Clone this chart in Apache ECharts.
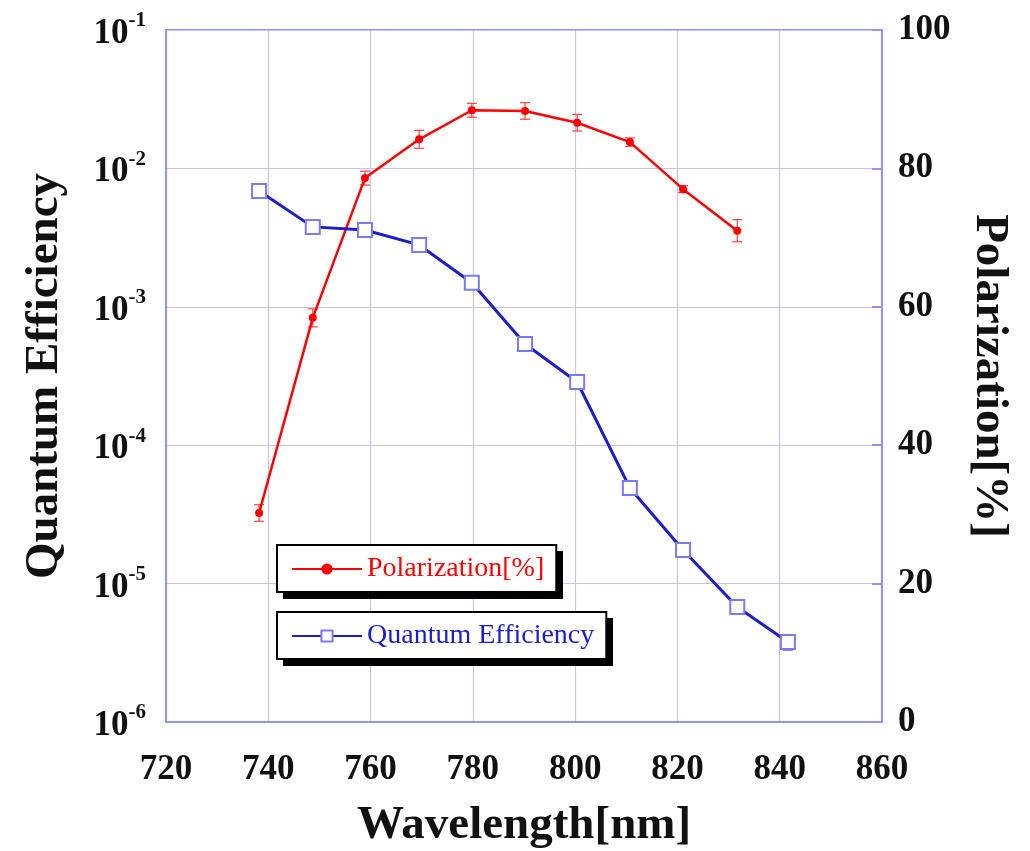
<!DOCTYPE html>
<html>
<head>
<meta charset="utf-8">
<script src="https://cdn.jsdelivr.net/npm/echarts@6/dist/echarts.min.js"></script>
<style>
html,body{margin:0;padding:0;background:#fff;}
#chart{width:1030px;height:851px;}
</style>
</head>
<body>
<div id="chart"></div>
<script>
// ---- data ----
var wavelength = [738.2, 748.7, 758.9, 769.5, 779.8, 790.2, 800.4, 810.7, 821.1, 831.7, 841.6];
var polarization = [30.2, 58.4, 78.6, 84.2, 88.4, 88.3, 86.6, 83.8, 77.0, 71.0];
var polarizationErr = [1.2, 1.3, 1.0, 1.3, 1.0, 1.2, 1.2, 0.6, 0.5, 1.6];
var quantumEfficiency = [6.87e-3, 3.78e-3, 3.59e-3, 2.80e-3, 1.49e-3, 5.38e-4, 2.86e-4, 4.91e-5, 1.75e-5, 6.78e-6, 3.79e-6];
var qeErrFrac = [0.08, 0, 0, 0, 0, 0, 0, 0, 0, 0, 0.13];
var xTicks = [720, 740, 760, 780, 800, 820, 840, 860];
var polTicks = [0, 20, 40, 60, 80, 100];

var serif = "'Liberation Serif','Times New Roman',serif";
var frameColor = '#9292f2';
var gridColor = '#c4c4f4';

var polData = polarization.map(function (v, i) { return [wavelength[i], v]; });
var qeData = quantumEfficiency.map(function (v, i) { return [wavelength[i], v]; });
var polErrData = polarization.map(function (v, i) { return [wavelength[i], v - polarizationErr[i], v + polarizationErr[i]]; });
var qeErrData = [];
quantumEfficiency.forEach(function (v, i) {
  if (qeErrFrac[i] > 0) qeErrData.push([wavelength[i], v * (1 - qeErrFrac[i]), v * (1 + qeErrFrac[i])]);
});

function errRender(color) {
  return function (params, api) {
    var x = api.value(0);
    var p1 = api.coord([x, api.value(1)]);
    var p2 = api.coord([x, api.value(2)]);
    var w = 5;
    var st = { stroke: color, lineWidth: 1.2 };
    return {
      type: 'group',
      children: [
        { type: 'line', shape: { x1: p1[0], y1: p1[1], x2: p2[0], y2: p2[1] }, style: st },
        { type: 'line', shape: { x1: p1[0] - w, y1: p1[1], x2: p1[0] + w, y2: p1[1] }, style: st },
        { type: 'line', shape: { x1: p2[0] - w, y1: p2[1], x2: p2[0] + w, y2: p2[1] }, style: st }
      ]
    };
  };
}

var legendCommon = {
  orient: 'vertical',
  itemWidth: 70, itemHeight: 14,
  padding: [10, 12, 9, 14],
  backgroundColor: '#fff',
  borderColor: '#000', borderWidth: 2,
  z: 10
};

var chart = echarts.init(document.getElementById('chart'), null, { renderer: 'canvas' });
var option = {
  backgroundColor: '#ffffff',
  animation: false,
  grid: { left: 166, right: 148, top: 30, bottom: 129, containLabel: false, outerBoundsMode: 'none',
    show: true, borderColor: frameColor, borderWidth: 2, backgroundColor: 'transparent' },
  legend: [
    Object.assign({}, legendCommon, {
      data: ['Polarization[%]'], left: 277, top: 545,
      textStyle: { fontFamily: serif, fontSize: 28, color: '#ff0000' }
    }),
    Object.assign({}, legendCommon, {
      data: ['Quantum Efficiency'], left: 277, top: 612,
      textStyle: { fontFamily: serif, fontSize: 28, color: '#1c1cd0' }
    })
  ],
  graphic: [
    { type: 'rect', left: 283, top: 551, shape: { width: 280, height: 48 }, style: { fill: '#000' }, z: 5 },
    { type: 'rect', left: 283, top: 618, shape: { width: 330, height: 48 }, style: { fill: '#000' }, z: 5 }
  ],
  xAxis: {
    type: 'value', min: 720, max: 860, interval: 20,
    name: 'Wavelength[nm]', nameLocation: 'middle', nameGap: 80,
    nameTextStyle: { fontFamily: serif, fontSize: 47, fontWeight: 'bold', color: '#111' },
    axisLine: { show: true, lineStyle: { color: frameColor, width: 2 } },
    axisTick: { show: false },
    axisLabel: { margin: 30, fontFamily: serif, fontSize: 35, fontWeight: 'bold', color: '#111',
      formatter: function (v) { return xTicks.indexOf(v) >= 0 ? String(v) : ''; } },
    splitLine: { show: true, lineStyle: { color: gridColor, width: 1.2 } }
  },
  yAxis: [
    {
      type: 'log', logBase: 10, min: 1e-6, max: 1e-1,
      name: 'Quantum Efficiency', nameLocation: 'middle', nameGap: 98,
      nameTextStyle: { fontFamily: serif, fontSize: 47, fontWeight: 'bold', color: '#111' },
      axisLine: { show: true, lineStyle: { color: frameColor, width: 2 } },
      axisTick: { show: false },
      minorTick: { show: false },
      axisLabel: {
        margin: 20, color: '#111',
        formatter: function (v) {
          var e = Math.round(Math.log(v) / Math.LN10);
          return '{b|10}{s|' + e + '}';
        },
        rich: {
          b: { fontFamily: serif, fontSize: 35, fontWeight: 'bold', color: '#111', padding: [8, 0, 0, 0] },
          s: { fontFamily: serif, fontSize: 21, fontWeight: 'bold', color: '#111', padding: [0, 0, 18, 0] }
        }
      },
      splitLine: { show: true, lineStyle: { color: gridColor, width: 1.2 } }
    },
    {
      type: 'value', min: 0, max: 100, interval: 20,
      name: 'Polarization[%]', nameLocation: 'middle', nameGap: 84, nameRotate: -90,
      nameTextStyle: { fontFamily: serif, fontSize: 47, fontWeight: 'bold', color: '#111' },
      axisLine: { show: true, lineStyle: { color: frameColor, width: 2 } },
      axisTick: { show: true, inside: true, length: 10, lineStyle: { color: frameColor, width: 2 } },
      axisLabel: { margin: 16, fontFamily: serif, fontSize: 35, fontWeight: 'bold', color: '#111',
        formatter: function (v) { return polTicks.indexOf(v) >= 0 ? String(v) : ''; } },
      splitLine: { show: false }
    }
  ],
  series: [
    {
      name: 'Polarization[%]', type: 'line', yAxisIndex: 1, data: polData,
      symbol: 'circle', symbolSize: 8,
      lineStyle: { color: '#ff0000', width: 2.5 },
      itemStyle: { color: '#ff0000' },
      z: 3
    },
    {
      name: 'Quantum Efficiency', type: 'line', yAxisIndex: 0, data: qeData,
      symbol: 'rect', symbolSize: 14,
      lineStyle: { color: '#1c1cd0', width: 3 },
      itemStyle: { color: '#ffffff', borderColor: '#7a7af5', borderWidth: 2 },
      z: 3
    },
    {
      name: 'polErr', type: 'custom', yAxisIndex: 1, data: polErrData,
      renderItem: errRender('#ff4040'), z: 2, silent: true
    },
    {
      name: 'qeErr', type: 'custom', yAxisIndex: 0, data: qeErrData,
      renderItem: errRender('#7a7af5'), z: 2, silent: true
    }
  ]
};
chart.setOption(option);
</script>
</body>
</html>
